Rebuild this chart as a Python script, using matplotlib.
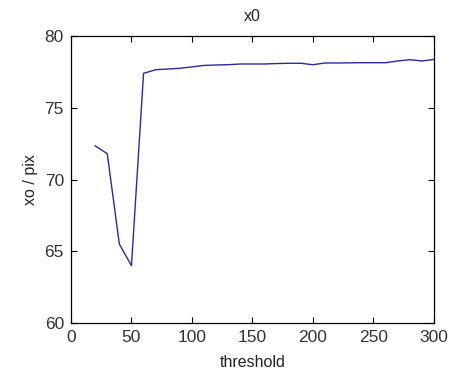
import numpy as np
import matplotlib.pyplot as plt

plt.rcParams['font.family'] = ['Liberation Sans', 'DejaVu Sans']

# threshold values and measured x0 position
threshold = [20, 30, 40, 50, 60, 70, 80, 90, 100, 110, 120, 130, 140, 150,
             160, 170, 180, 190, 200, 210, 220, 230, 240, 250, 260, 270,
             280, 290, 300]
x0 = [72.35, 71.8, 65.5, 64.0, 77.4, 77.65, 77.7, 77.75, 77.85, 77.95,
      77.98, 78.0, 78.05, 78.05, 78.05, 78.08, 78.1, 78.1, 78.0, 78.12,
      78.12, 78.13, 78.14, 78.14, 78.14, 78.26, 78.35, 78.26, 78.37]

fig = plt.figure(figsize=(4.49, 3.74), dpi=100)
ax = fig.add_axes([0.158, 0.1364, 0.8086, 0.7673])

ax.plot(threshold, x0, color='#2a2a9a', linewidth=1.0)

ax.set_xlim(0, 300)
ax.set_ylim(60, 80)
ax.set_xticks([0, 50, 100, 150, 200, 250, 300])
ax.set_yticks([60, 65, 70, 75, 80])

ax.tick_params(direction='in', length=4, width=0.8, top=True, right=True,
               labelsize=12.5, pad=5, colors='black', labelcolor='#333333')
for s in ax.spines.values():
    s.set_linewidth(0.9)

ax.set_title('x0', fontsize=11.5, pad=11, color='#222222')
ax.set_xlabel('threshold', fontsize=11.5, labelpad=7, color='#222222')
ax.set_ylabel('xo / pix', fontsize=11.5, labelpad=5, color='#222222')

fig.savefig('out.png', dpi=100)
